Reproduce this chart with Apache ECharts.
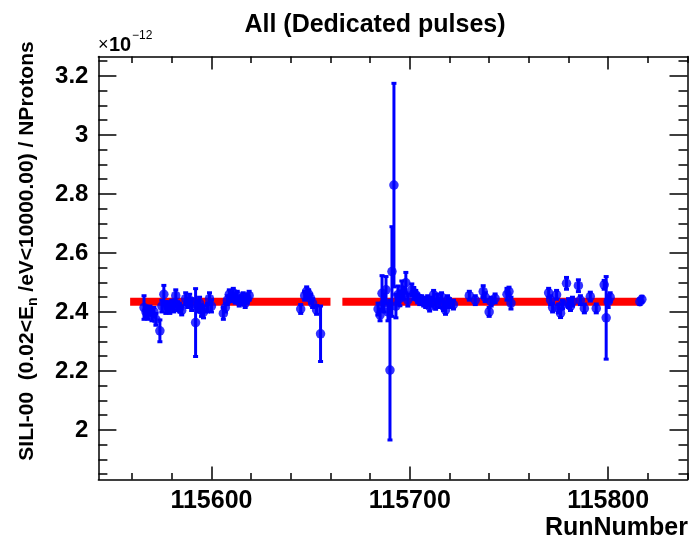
<!DOCTYPE html>
<html><head><meta charset="utf-8">
<script src="https://cdn.jsdelivr.net/npm/echarts@6/dist/echarts.min.js"></script>
<style>html,body{margin:0;padding:0;background:#fff}#c{width:692px;height:546px}</style>
</head><body><div id="c"></div>
<script>
// ---- data ----
const runs = [
 115566,115567,115568,115569,115570,115571,115572,115574,115575,115576,115577,115578,115579,115580,115581,115582,115583,115584,115585,115587,115588,115589,115590,115592,115593,115594,115595,115596,115598,115599,115600,
 115606,115607,115608,115609,115610,115611,115612,115613,115614,115615,115616,115617,115618,115619,
 115645,115647,115648,115649,115650,115651,115653,115655,
 115684,115685,115686,115687,115688,115689,115690,115691,115692,115693,115694,115695,115696,115697,115698,115699,115701,115702,115703,115704,115705,115706,115707,
 115708,115709,115710,115711,115712,115713,115714,115715,115716,115717,115718,115719,115720,115722,115730,115733,115737,115738,115740,115741,115743,115749,115750,115751,115770,115771,115772,
 115774,115775,115776,115777,115779,115780,115781,115782,115785,115786,115788,115791,115794,115798,115799,115800,115801,115816,115817
];
const vals = [
 2.415,2.400,2.395,2.405,2.390,2.400,2.375,2.336,2.420,2.460,2.415,2.420,2.410,2.425,2.415,2.455,2.420,2.415,2.405,2.445,2.430,2.440,2.425,2.364,2.420,2.430,2.405,2.400,2.415,2.445,2.420,
 2.395,2.415,2.440,2.460,2.450,2.465,2.445,2.455,2.435,2.440,2.450,2.430,2.445,2.455,
 2.410,2.455,2.470,2.460,2.445,2.430,2.407,2.326,
 2.410,2.390,2.463,2.430,2.475,2.400,2.203,2.537,2.830,2.420,2.458,2.446,2.475,2.463,2.499,2.440,2.475,2.463,2.458,2.446,2.440,2.440,2.435,
 2.430,2.440,2.418,2.435,2.458,2.424,2.446,2.430,2.450,2.420,2.407,2.440,2.430,2.425,2.455,2.440,2.469,2.450,2.400,2.435,2.446,2.460,2.469,2.430,2.465,2.440,2.415,
 2.458,2.412,2.396,2.425,2.497,2.430,2.420,2.435,2.489,2.440,2.412,2.452,2.412,2.492,2.380,2.435,2.450,2.435,2.443
];
const errs = [
 0.040,0.020,0.020,0.015,0.020,0.015,0.020,0.037,0.020,0.030,0.020,0.015,0.015,0.015,0.015,0.020,0.015,0.015,0.015,0.020,0.015,0.020,0.020,0.115,0.020,0.020,0.020,0.020,0.015,0.020,0.020,
 0.020,0.015,0.015,0.015,0.015,0.015,0.015,0.015,0.015,0.015,0.015,0.015,0.015,0.015,
 0.015,0.015,0.015,0.015,0.015,0.015,0.015,0.094,
 0.020,0.020,0.060,0.030,0.045,0.030,0.237,0.152,0.345,0.040,0.030,0.025,0.030,0.020,0.035,0.020,0.020,0.020,0.015,0.015,0.015,0.015,0.015,
 0.015,0.015,0.015,0.015,0.015,0.015,0.015,0.015,0.015,0.015,0.015,0.015,0.015,0.015,0.015,0.015,0.020,0.015,0.015,0.015,0.015,0.020,0.015,0.020,0.015,0.015,0.015,
 0.015,0.015,0.015,0.015,0.020,0.015,0.015,0.015,0.020,0.015,0.015,0.015,0.015,0.015,0.140,0.020,0.015,0.010,0.010
];
const fitValue = 2.435;
const fitStarts = [115559, 115666];
const fitEnds = [115660, 115816];

const xMin = 115543, xMax = 115840;
const yMin = 1.832, yMax = 3.266;
const xMajorTicks = [115600, 115700, 115800];
const xMinorTicks = [115560,115580,115620,115640,115660,115680,115720,115740,115760,115780,115820,115840];
const yMajorTicks = [2.0, 2.2, 2.4, 2.6, 2.8, 3.0, 3.2];
const yMinorTicks = [1.85,1.9,1.95,2.05,2.1,2.15,2.25,2.3,2.35,2.45,2.5,2.55,2.65,2.7,2.75,2.85,2.9,2.95,3.05,3.1,3.15,3.25];

const titleText = 'All (Dedicated pulses)';
const xTitle = 'RunNumber';

// ---- chart ----
const FONT = '"Liberation Sans", Arial, Helvetica, sans-serif';
const BLUE = '#0000ff', RED = '#ff0000';
const chart = echarts.init(document.getElementById('c'), null, {renderer: 'canvas'});
const gridBox = {left: 98.4, right: 4.5, top: 56.5, bottom: 66.5};
const lineStyle = {color: '#000', width: 1.5};

function xAx(gridIndex, pos, ticks, len, showLine, labels) {
  return {
    type: 'value', gridIndex, position: pos, min: xMin, max: xMax,
    axisLine: {show: showLine, onZero: false, lineStyle},
    axisTick: {show: true, inside: true, length: len, customValues: ticks, lineStyle},
    axisLabel: labels ? {show: true, customValues: ticks, formatter: v => String(Math.round(v)), fontSize: 25, fontWeight: 'bold', fontFamily: FONT, color: '#000', margin: 9} : {show: false},
    splitLine: {show: false}
  };
}
function yAx(gridIndex, pos, ticks, len, showLine, labels) {
  return {
    type: 'value', gridIndex, position: pos, min: yMin, max: yMax,
    axisLine: {show: showLine, onZero: false, lineStyle},
    axisTick: {show: true, inside: true, length: len, customValues: ticks, lineStyle},
    axisLabel: labels ? {show: true, customValues: ticks, formatter: v => String(+v.toFixed(1)), fontSize: 24, fontWeight: 'bold', fontFamily: FONT, color: '#000', margin: 10} : {show: false},
    splitLine: {show: false}
  };
}

const fitSeries = fitStarts.map((s, i) => ({
  type: 'line', xAxisIndex: 0, yAxisIndex: 0, z: 1,
  data: [[s, fitValue], [fitEnds[i], fitValue]],
  symbol: 'none', silent: true,
  lineStyle: {color: RED, width: 8, cap: 'butt'}
}));

const option = {
  animation: false,
  backgroundColor: '#fff',
  grid: [Object.assign({}, gridBox), Object.assign({}, gridBox)],
  xAxis: [
    xAx(0, 'bottom', xMajorTicks, 13, true, true),
    xAx(0, 'top', xMajorTicks, 13, true, false),
    xAx(1, 'bottom', xMinorTicks, 6.5, false, false),
    xAx(1, 'top', xMinorTicks, 6.5, false, false)
  ],
  yAxis: [
    yAx(0, 'left', yMajorTicks, 18, true, true),
    yAx(0, 'right', yMajorTicks, 18, true, false),
    yAx(1, 'left', yMinorTicks, 9, false, false),
    yAx(1, 'right', yMinorTicks, 9, false, false)
  ],
  series: fitSeries.concat([
    {
      type: 'custom', xAxisIndex: 0, yAxisIndex: 0, z: 3,
      data: runs.map((r, i) => [r, vals[i], errs[i]]),
      encode: {x: 0, y: 1},
      renderItem: function (params, api) {
        const x = api.value(0), v = api.value(1), e = api.value(2);
        const top = api.coord([x, v + e]), bot = api.coord([x, v - e]);
        const cw = 2.5, st = {stroke: BLUE, lineWidth: 3};
        return {type: 'group', children: [
          {type: 'line', shape: {x1: top[0], y1: top[1], x2: bot[0], y2: bot[1]}, style: st},
          {type: 'line', shape: {x1: top[0] - cw, y1: top[1], x2: top[0] + cw, y2: top[1]}, style: st},
          {type: 'line', shape: {x1: bot[0] - cw, y1: bot[1], x2: bot[0] + cw, y2: bot[1]}, style: st}
        ]};
      }
    },
    {
      type: 'scatter', xAxisIndex: 0, yAxisIndex: 0, z: 4,
      data: runs.map((r, i) => [r, vals[i]]),
      symbol: 'circle', symbolSize: 9.5,
      itemStyle: {color: BLUE}
    }
  ]),
  graphic: [
    {type: 'text', x: 375, y: 25, style: {text: titleText, font: 'bold 25px ' + FONT, fill: '#000', align: 'center', verticalAlign: 'middle'}},
    {type: 'text', x: 688, y: 528, style: {text: xTitle, font: 'bold 25px ' + FONT, fill: '#000', align: 'right', verticalAlign: 'middle'}},
    {type: 'text', x: 98, y: 45, style: {text: '×', font: '18px ' + FONT, fill: '#000', align: 'left', verticalAlign: 'middle'}},
    {type: 'text', x: 109, y: 45, style: {text: '10', font: 'bold 20px ' + FONT, fill: '#000', align: 'left', verticalAlign: 'middle'}},
    {type: 'text', x: 132, y: 36, style: {text: '−12', font: '12px ' + FONT, fill: '#000', align: 'left', verticalAlign: 'middle'}},
    {type: 'text', x: 27, y: 251, rotation: Math.PI / 2, style: {
      text: '{a|SILI-00  (0.02<E}{s|n}{a| /eV<10000.00) / NProtons}',
      align: 'center', verticalAlign: 'middle', fill: '#000',
      rich: {
        a: {fontSize: 21, fontWeight: 'bold', fontFamily: FONT, lineHeight: 26, verticalAlign: 'middle', fill: '#000'},
        s: {fontSize: 14, fontWeight: 'bold', fontFamily: FONT, lineHeight: 14, verticalAlign: 'bottom', fill: '#000'}
      }
    }}
  ]
};
chart.setOption(option);
</script>
</body></html>
